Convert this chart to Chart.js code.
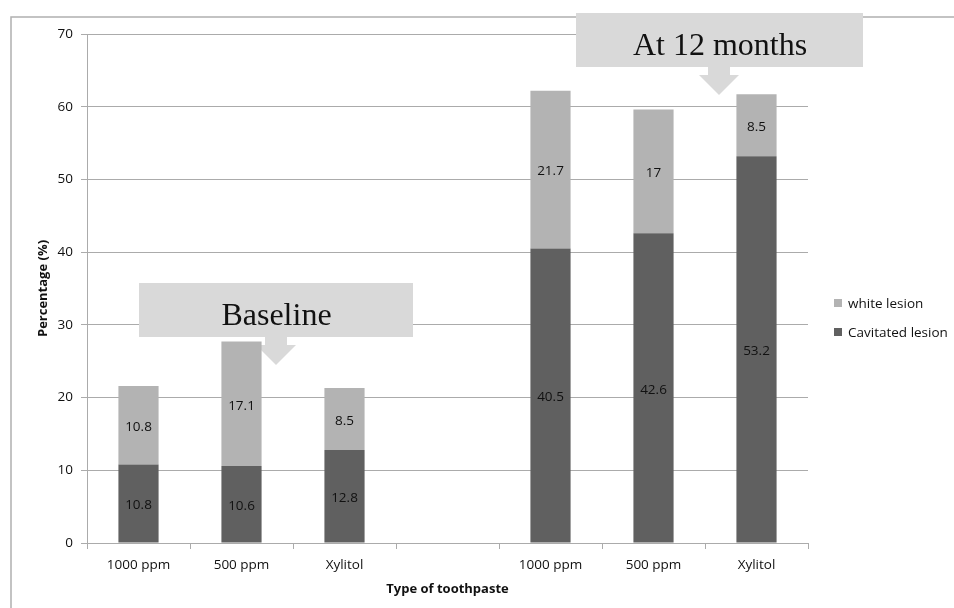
<!DOCTYPE html>
<html><head><meta charset="utf-8">
<script src="https://cdn.jsdelivr.net/npm/chart.js@4/dist/chart.umd.min.js"></script>
<style>html,body{margin:0;padding:0;background:#fff}canvas{display:block}</style>
</head><body>
<canvas id="c" width="954" height="608"></canvas>
<script>
// ---- data ----
const categories = ['1000 ppm', '500 ppm', 'Xylitol', '', '1000 ppm', '500 ppm', 'Xylitol'];
const cavitatedLesion = [10.8, 10.6, 12.8, null, 40.5, 42.6, 53.2];
const whiteLesion = [10.8, 17.1, 8.5, null, 21.7, 17, 8.5];
const seriesNames = ['Cavitated lesion', 'white lesion'];
const calloutTexts = ['Baseline', 'At 12 months'];

const FONT = "'Open Sans', 'Noto Sans', sans-serif";
const DARK = '#606060', LIGHT = '#b3b3b3', CALLOUT = '#d9d9d9', GRID = '#ababab';

const decor = {
  id: 'decor',
  beforeDraw(chart) {
    const ctx = chart.ctx;
    ctx.save();
    ctx.fillStyle = '#fff';
    ctx.fillRect(0, 0, chart.width, chart.height);
    ctx.strokeStyle = '#b0b0b0';
    ctx.lineWidth = 1.5;
    ctx.strokeRect(11, 17, chart.width + 20, chart.height + 20);
    ctx.restore();
  },
  beforeDatasetsDraw(chart) {
    const ctx = chart.ctx;
    const boxes = [
      {text: calloutTexts[0], x0: 139, y0: 283, x1: 413, y1: 337, ax: 276},
      {text: calloutTexts[1], x0: 576, y0: 13, x1: 863, y1: 67, ax: 719}
    ];
    ctx.save();
    boxes.forEach(b => {
      ctx.fillStyle = CALLOUT;
      ctx.fillRect(b.x0, b.y0, b.x1 - b.x0, b.y1 - b.y0);
      ctx.beginPath();
      ctx.moveTo(b.ax - 11, b.y1);
      ctx.lineTo(b.ax + 11, b.y1);
      ctx.lineTo(b.ax + 11, b.y1 + 8);
      ctx.lineTo(b.ax + 20, b.y1 + 8);
      ctx.lineTo(b.ax, b.y1 + 28);
      ctx.lineTo(b.ax - 20, b.y1 + 8);
      ctx.lineTo(b.ax - 11, b.y1 + 8);
      ctx.closePath();
      ctx.fill();
      ctx.fillStyle = '#111';
      ctx.font = "32px 'Liberation Serif', 'DejaVu Serif', serif";
      ctx.textAlign = 'center';
      ctx.textBaseline = 'middle';
      ctx.fillText(b.text, (b.x0 + b.x1) / 2 + 0.5, (b.y0 + b.y1) / 2 + 7);
    });
    ctx.restore();
  },
  afterDatasetsDraw(chart) {
    const ctx = chart.ctx;
    ctx.save();
    ctx.font = '13.5px ' + FONT;
    ctx.fillStyle = '#111';
    ctx.textAlign = 'center';
    ctx.textBaseline = 'middle';
    chart.data.datasets.forEach((ds, i) => {
      const meta = chart.getDatasetMeta(i);
      meta.data.forEach((bar, j) => {
        const v = ds.data[j];
        if (v === null || v === undefined) return;
        const p = bar.getProps(['x', 'y', 'base'], true);
        ctx.fillText(String(v), p.x, (p.y + p.base) / 2 + 2);
      });
    });
    ctx.restore();
  },
  afterDraw(chart) {
    const ctx = chart.ctx;
    ctx.save();
    ctx.font = '13.5px ' + FONT;
    ctx.textAlign = 'left';
    ctx.textBaseline = 'middle';
    const dsets = chart.data.datasets.slice().reverse();
    dsets.forEach((ds, k) => {
      const y = 303 + k * 29;
      ctx.fillStyle = ds.backgroundColor;
      ctx.fillRect(834, y - 4, 8, 8);
      ctx.fillStyle = '#111';
      ctx.fillText(ds.label, 848, y + 1);
    });
    ctx.restore();
  }
};

new Chart(document.getElementById('c'), {
  type: 'bar',
  data: {
    labels: categories,
    datasets: [
      {label: seriesNames[0], data: cavitatedLesion, backgroundColor: DARK},
      {label: seriesNames[1], data: whiteLesion, backgroundColor: LIGHT}
    ]
  },
  options: {
    responsive: false,
    animation: false,
    devicePixelRatio: 1,
    layout: {padding: {top: 34, right: 146, left: 0, bottom: 0}},
    datasets: {bar: {categoryPercentage: 1, barPercentage: 0.39}},
    plugins: {legend: {display: false}, tooltip: {enabled: false}},
    scales: {
      x: {
        stacked: true,
        afterFit(s) { s.height = 65; },
        grid: {drawOnChartArea: false, color: GRID, tickLength: 6},
        border: {color: GRID},
        ticks: {color: '#111', font: {family: FONT, size: 13.5}, padding: 8, maxRotation: 0},
        title: {display: true, text: 'Type of toothpaste', color: '#111',
                font: {family: FONT, size: 13, weight: 'bold'}, padding: {top: 0, bottom: 11}}
      },
      y: {
        stacked: true,
        min: 0, max: 70,
        afterFit(s) { s.width = 87; },
        grid: {color: GRID, tickLength: 6},
        border: {color: GRID},
        ticks: {stepSize: 10, color: '#111', font: {family: FONT, size: 13.5}, padding: 8},
        title: {display: true, text: 'Percentage (%)', color: '#111',
                font: {family: FONT, size: 13, weight: 'bold'}, padding: {top: 35, bottom: 0}}
      }
    }
  },
  plugins: [decor]
});
</script>
</body></html>
